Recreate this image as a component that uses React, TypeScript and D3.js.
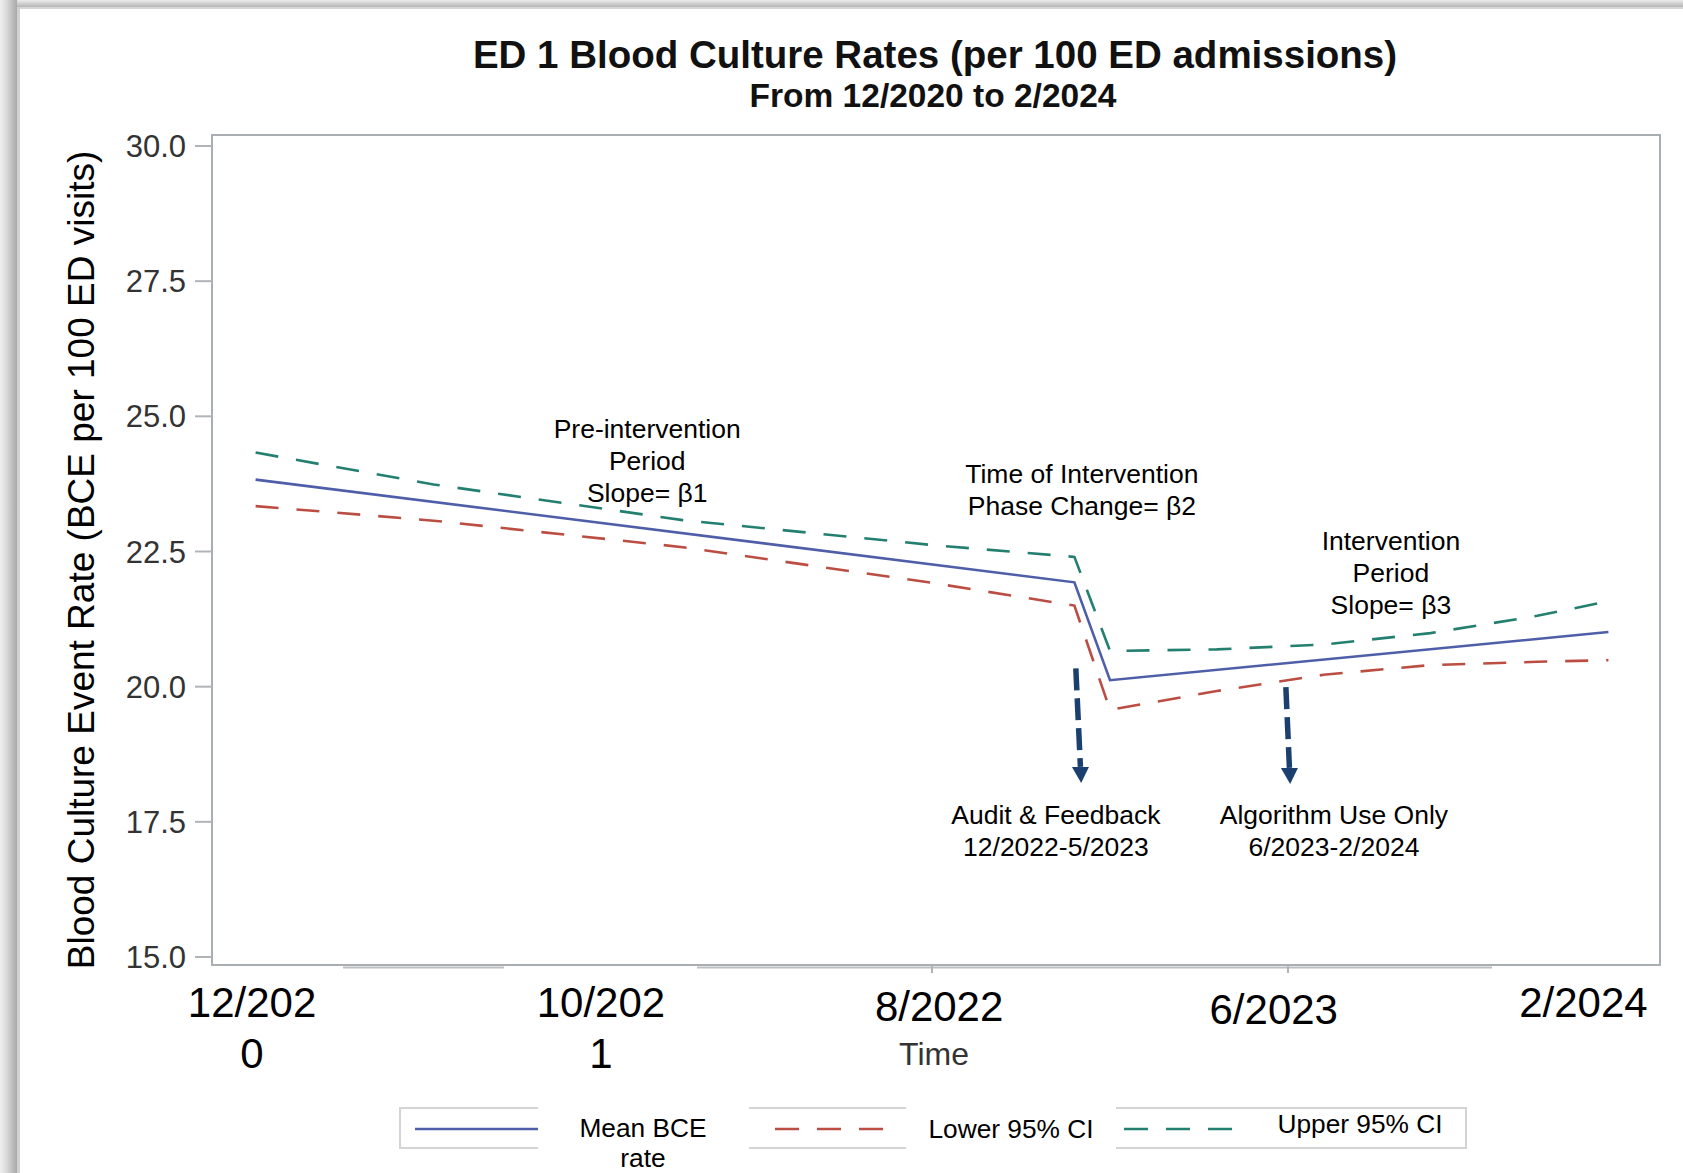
import * as d3 from 'd3'

const W = 1683
const H = 1173
const FONT = "'Liberation Sans', Arial, Helvetica, sans-serif"

// time index in months: 1 = 12/2020 ... 24 = 11/2022, 25 = 12/2022 ... 39 = 2/2024
const meanRate: [number, number][] = [[1, 23.83], [24, 21.93], [25, 20.12], [39, 21.01]]
const lowerCI: [number, number][] = [
  [1, 23.34], [6, 23.07], [13, 22.58], [20, 21.92], [24, 21.5],
  [25, 19.57], [28, 19.92], [31, 20.22], [34, 20.4], [37, 20.46], [39, 20.49],
]
const upperCI: [number, number][] = [
  [1, 24.33], [6, 23.74], [13, 23.08], [20, 22.62], [24, 22.4],
  [25, 20.66], [28, 20.69], [31, 20.78], [34, 20.99], [37, 21.31], [39, 21.58],
]

const yTicks = [15, 17.5, 20, 22.5, 25, 27.5, 30]
const axisTicks = [20, 30]
const xTickAt = [0.9, 10.7, 20.2, 29.6, 38.3]
const xTickText = [['12/202', '0'], ['10/202', '1'], ['8/2022'], ['6/2023'], ['2/2024']]
const xTickDrop = [0, 0, 4, 7, 0]

const phaseArrows = [
  { t0: 24.04, v0: 20.34, t1: 24.19, v1: 18.22 },
  { t0: 29.94, v0: 19.99, t1: 30.06, v1: 18.2 },
]

const notes = [
  { t: 12, v: 24.6, lines: ['Pre-intervention', 'Period', 'Slope= β1'] },
  { t: 24.21, v: 23.76, lines: ['Time of Intervention', 'Phase Change= β2'] },
  { t: 32.89, v: 22.53, lines: ['Intervention', 'Period', 'Slope= β3'] },
  { t: 23.48, v: 17.46, lines: ['Audit & Feedback', '12/2022-5/2023'] },
  { t: 31.29, v: 17.46, lines: ['Algorithm Use Only', '6/2023-2/2024'] },
]

const BLUE = '#4e5ea8'
const RED = '#bb4d42'
const TEAL = '#237f70'
const NAVY = '#1b406f'

const FRAME = { left: 212, top: 135, right: 1660, bottom: 965 }

export default function App() {
  const x = d3.scaleLinear().domain([0, 40]).range([220, 1644])
  const y = d3.scaleLinear().domain([15, 30]).range([957, 146])

  const line = d3.line<[number, number]>()
    .x(d => x(d[0]))
    .y(d => y(d[1]))

  const series = [
    { data: lowerCI, color: RED, dash: '23 18' },
    { data: upperCI, color: TEAL, dash: '23 18' },
    { data: meanRate, color: BLUE, dash: null },
  ]

  return (
    <svg width={W} height={H} style={{ position: 'absolute', left: 0, top: 0, background: '#fff' }}
      fontFamily={FONT}>
      <defs>
        <linearGradient id="shadeL" x1="0" x2="1" y1="0" y2="0">
          <stop offset="0" stopColor="#f0f0f0" />
          <stop offset="0.35" stopColor="#dcdcdc" />
          <stop offset="1" stopColor="#a8a8a8" />
        </linearGradient>
        <linearGradient id="shadeT" x1="0" x2="0" y1="0" y2="1">
          <stop offset="0" stopColor="#ececec" />
          <stop offset="1" stopColor="#b4b4b4" />
        </linearGradient>
      </defs>

      {/* page shadow */}
      <rect x={0} y={0} width={W} height={7} fill="url(#shadeT)" />
      <rect x={0} y={7} width={W} height={2} fill="#d6d6d6" />
      <rect x={0} y={0} width={17} height={H} fill="url(#shadeL)" />
      <rect x={17} y={7} width={3} height={H} fill="#d2d2d2" />

      {/* titles */}
      <text x={935} y={68} textAnchor="middle" fontSize={38.5} fontWeight="bold" fill="#111">
        ED 1 Blood Culture Rates (per 100 ED admissions)
      </text>
      <text x={933} y={107} textAnchor="middle" fontSize={33.5} fontWeight="bold" fill="#111">
        From 12/2020 to 2/2024
      </text>

      {/* frame */}
      <rect x={FRAME.left} y={FRAME.top} width={FRAME.right - FRAME.left} height={FRAME.bottom - FRAME.top}
        fill="none" stroke="#a9aeb3" strokeWidth={2} />
      <line x1={343} x2={504} y1={967.5} y2={967.5} stroke="#bcc0c4" strokeWidth={2} />
      <line x1={697} x2={1492} y1={967.5} y2={967.5} stroke="#bcc0c4" strokeWidth={2} />
      {axisTicks.map(t => (
        <line key={t} x1={x(t)} x2={x(t)} y1={FRAME.bottom} y2={FRAME.bottom + 8} stroke="#b0b4b8" strokeWidth={2} />
      ))}

      {/* y axis */}
      {yTicks.map(v => (
        <g key={v}>
          <line x1={195} x2={FRAME.left} y1={y(v)} y2={y(v)} stroke="#b0b4b8" strokeWidth={2} />
          <text x={186} y={y(v)} dy="0.36em" textAnchor="end" fontSize={31} fill="#333">{v.toFixed(1)}</text>
        </g>
      ))}
      <text transform="translate(94,560) rotate(-90)" textAnchor="middle" fontSize={37} fill="#000">
        Blood Culture Event Rate (BCE per 100 ED visits)
      </text>

      {/* x axis labels */}
      {xTickAt.map((t, i) => (
        <text key={i} x={x(t)} y={1017 + xTickDrop[i]} textAnchor="middle" fontSize={42} fill="#000">
          {xTickText[i].map((s, j) => (
            <tspan key={j} x={x(t)} dy={j === 0 ? 0 : 51}>{s}</tspan>
          ))}
        </text>
      ))}
      <text x={934} y={1065} textAnchor="middle" fontSize={32} fill="#333">Time</text>

      {/* series */}
      {series.map((s, i) => (
        <path key={i} d={line(s.data) || ''} fill="none" stroke={s.color} strokeWidth={2.6}
          strokeDasharray={s.dash || undefined} strokeLinejoin="miter" />
      ))}

      {/* phase arrows */}
      {phaseArrows.map((a, i) => {
        const xa = x(a.t0), ya = y(a.v0), xb = x(a.t1), yb = y(a.v1)
        const head = 16
        const k = (yb - head - ya) / (yb - ya)
        const xm = xa + (xb - xa) * k
        return (
          <g key={i}>
            <line x1={xa} y1={ya} x2={xm} y2={yb - head} stroke={NAVY} strokeWidth={5.5} strokeDasharray="22 8" />
            <path d={`M${xm - 8.5},${yb - head} L${xm + 8.5},${yb - head} L${xb},${yb} Z`} fill={NAVY} />
          </g>
        )
      })}

      {/* annotations */}
      {notes.map((n, i) => (
        <text key={i} x={x(n.t)} y={y(n.v)} textAnchor="middle" fontSize={26.5} fill="#000">
          {n.lines.map((s, j) => (
            <tspan key={j} x={x(n.t)} dy={j === 0 ? 0 : 32}>{s}</tspan>
          ))}
        </text>
      ))}

      {/* legend */}
      <rect x={400} y={1108} width={1066} height={40} fill="#fff" stroke="#d4d4d4" strokeWidth={2} />
      <rect x={538} y={1104} width={211} height={48} fill="#fff" />
      <rect x={906} y={1104} width={210} height={48} fill="#fff" />
      <line x1={415} x2={538} y1={1129} y2={1129} stroke={BLUE} strokeWidth={2.6} />
      <line x1={775} x2={884} y1={1129} y2={1129} stroke={RED} strokeWidth={2.6} strokeDasharray="24 18" />
      <line x1={1124} x2={1234} y1={1129} y2={1129} stroke={TEAL} strokeWidth={2.6} strokeDasharray="24 18" />
      <text x={643} y={1137} textAnchor="middle" fontSize={26.3} fill="#000">
        <tspan x={643} dy={0}>Mean BCE</tspan>
        <tspan x={643} dy={30}>rate</tspan>
      </text>
      <text x={1011} y={1138} textAnchor="middle" fontSize={26.3} fill="#000">Lower 95% CI</text>
      <text x={1360} y={1133} textAnchor="middle" fontSize={26.3} fill="#000">Upper 95% CI</text>
    </svg>
  )
}
